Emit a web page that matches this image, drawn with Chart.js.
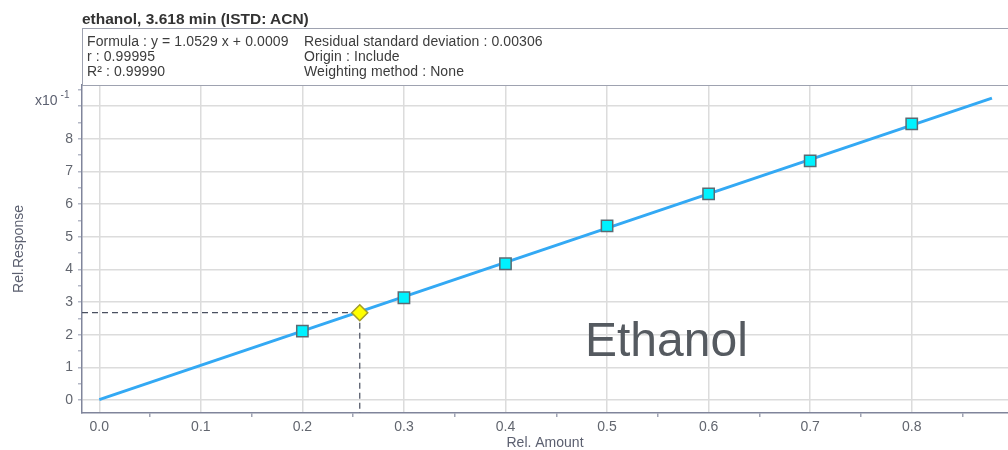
<!DOCTYPE html>
<html>
<head>
<meta charset="utf-8">
<script src="https://cdn.jsdelivr.net/npm/chart.js@4.4.1/dist/chart.umd.min.js"></script>
<style>
html, body { margin: 0; padding: 0; background: #fff; overflow: hidden; }
#wrap { position: relative; width: 1008px; height: 450px; font-family: "Liberation Sans", Arial, sans-serif; }
#chart { position: absolute; left: 0; top: 0; }
.title { position: absolute; left: 82px; top: 9.6px; font-size: 15.5px; font-weight: bold; line-height: 18px; color: #333; white-space: nowrap; }
.info { position: absolute; left: 82px; top: 28px; width: 1000px; height: 56px; border: 1px solid #9ea2b0; }
.col { position: absolute; top: 5.3px; font-size: 14px; line-height: 15px; color: #3c3c3c; white-space: nowrap; letter-spacing: 0.1px; }
.exp { position: absolute; left: 35px; top: 87px; font-size: 14px; line-height: 17px; color: #5c6070; white-space: nowrap; }
.exp sup { font-size: 10px; position: relative; top: -1px; margin-left: 3px; }
.label { position: absolute; left: 585px; top: 316.4px; font-size: 48px; line-height: 48px; color: #555a60; white-space: nowrap; }
</style>
</head>
<body>
<div id="wrap">
  <canvas id="chart" width="1008" height="450"></canvas>
  <div class="title">ethanol, 3.618 min (ISTD: ACN)</div>
  <div class="info">
    <div class="col" style="left:4px">Formula : y = 1.0529 x + 0.0009<br>r : 0.99995<br>R² : 0.99990</div>
    <div class="col" style="left:221px">Residual standard deviation : 0.00306<br>Origin : Include<br>Weighting method : None</div>
  </div>
  <div class="exp">x10<sup>-1</sup></div>
  <div class="label">Ethanol</div>
</div>
<script>
// calibration standards (Rel. Amount vs Rel. Response)
const amounts = [0.2, 0.3, 0.4, 0.5, 0.6, 0.7, 0.8];
const responses = [0.211, 0.313, 0.417, 0.533, 0.631, 0.732, 0.845];

// regression line ends as drawn
const fitX = [0, 0.879];
const fitY = [0.0009, 0.924];

// unknown sample
const sampleAmount = 0.2565;
const sampleResponse = 0.2672;

// tick labels
const xTickLabels = ['0.0', '0.1', '0.2', '0.3', '0.4', '0.5', '0.6', '0.7', '0.8'];
const yTickLabels = ['0', '1', '2', '3', '4', '5', '6', '7', '8'];

const xMin = -0.017, xMax = 0.8948;
const yMin = -0.0398, yMax = 0.9642;

Chart.defaults.font.family = '"Liberation Sans", Arial, sans-serif';
Chart.defaults.font.size = 14;

function isMajor(v) {
    return Math.abs(v * 10 - Math.round(v * 10)) < 1e-6;
}

const gridColor = '#dcdcdc';
const axisColor = '#80859b';
const tickText = '#62666f';

new Chart(document.getElementById('chart').getContext('2d'), {
    type: 'scatter',
    data: {
        datasets: [
            {
                label: 'Standards',
                data: amounts.map((x, i) => ({ x: x, y: responses[i] })),
                pointStyle: 'rect',
                pointRadius: 8,
                backgroundColor: '#00f2ff',
                borderColor: '#5b6a73',
                borderWidth: 1.5,
                order: 0
            },
            {
                label: 'Sample',
                data: [{ x: sampleAmount, y: sampleResponse }],
                pointStyle: 'rectRot',
                pointRadius: 8,
                backgroundColor: '#ffff00',
                borderColor: '#a39b2a',
                borderWidth: 1.5,
                order: 1
            },
            {
                label: 'Fit',
                data: fitX.map((x, i) => ({ x: x, y: fitY[i] })),
                showLine: true,
                borderColor: '#33a9f4',
                borderWidth: 3,
                pointRadius: 0,
                order: 2
            },
            {
                label: 'Sample H',
                data: [{ x: xMin, y: sampleResponse }, { x: sampleAmount, y: sampleResponse }],
                showLine: true,
                borderColor: '#4a5060',
                borderWidth: 1.2,
                borderDash: [6, 4],
                pointRadius: 0,
                order: 3
            },
            {
                label: 'Sample V',
                data: [{ x: sampleAmount, y: sampleResponse }, { x: sampleAmount, y: yMin }],
                showLine: true,
                borderColor: '#4a5060',
                borderWidth: 1.2,
                borderDash: [6, 4],
                pointRadius: 0,
                order: 3
            }
        ]
    },
    options: {
        responsive: false,
        animation: false,
        layout: { autoPadding: false, padding: { top: 85, left: 0, right: 0, bottom: 0 } },
        plugins: {
            legend: { display: false },
            tooltip: { enabled: false }
        },
        scales: {
            x: {
                type: 'linear',
                min: xMin,
                max: xMax,
                afterFit: function (scale) { scale.height = 37; },
                border: { color: axisColor, width: 1.5 },
                grid: {
                    color: ctx => (ctx.tick && isMajor(ctx.tick.value)) ? gridColor : 'rgba(0,0,0,0)',
                    tickColor: ctx => (ctx.tick && isMajor(ctx.tick.value)) ? 'rgba(0,0,0,0)' : '#a0a4b4',
                    lineWidth: 1.5,
                    tickLength: 4
                },
                ticks: {
                    stepSize: 0.05,
                    includeBounds: false,
                    autoSkip: false,
                    maxRotation: 0,
                    padding: 2,
                    color: tickText,
                    callback: function (v) {
                        if (!isMajor(v)) return '';
                        return xTickLabels[Math.round(v * 10)] || '';
                    }
                },
                title: {
                    display: true,
                    text: 'Rel. Amount',
                    color: '#5c6070',
                    padding: 0,
                    font: { size: 14, lineHeight: 1 }
                }
            },
            y: {
                type: 'linear',
                min: yMin,
                max: yMax,
                afterFit: function (scale) { scale.width = 82; },
                border: { color: axisColor, width: 1.5 },
                grid: {
                    color: ctx => (ctx.tick && isMajor(ctx.tick.value)) ? gridColor : 'rgba(0,0,0,0)',
                    tickColor: '#b4b8c6',
                    lineWidth: 1.5,
                    tickLength: 4
                },
                ticks: {
                    stepSize: 0.05,
                    includeBounds: false,
                    autoSkip: false,
                    padding: 5,
                    color: tickText,
                    callback: function (v) {
                        if (!isMajor(v)) return '';
                        return yTickLabels[Math.round(v * 10)] || '';
                    }
                },
                title: {
                    display: true,
                    text: 'Rel.Response',
                    color: '#5c6070',
                    padding: { top: 11, bottom: 0 },
                    font: { size: 14 }
                }
            }
        }
    }
});
</script>
</body>
</html>
